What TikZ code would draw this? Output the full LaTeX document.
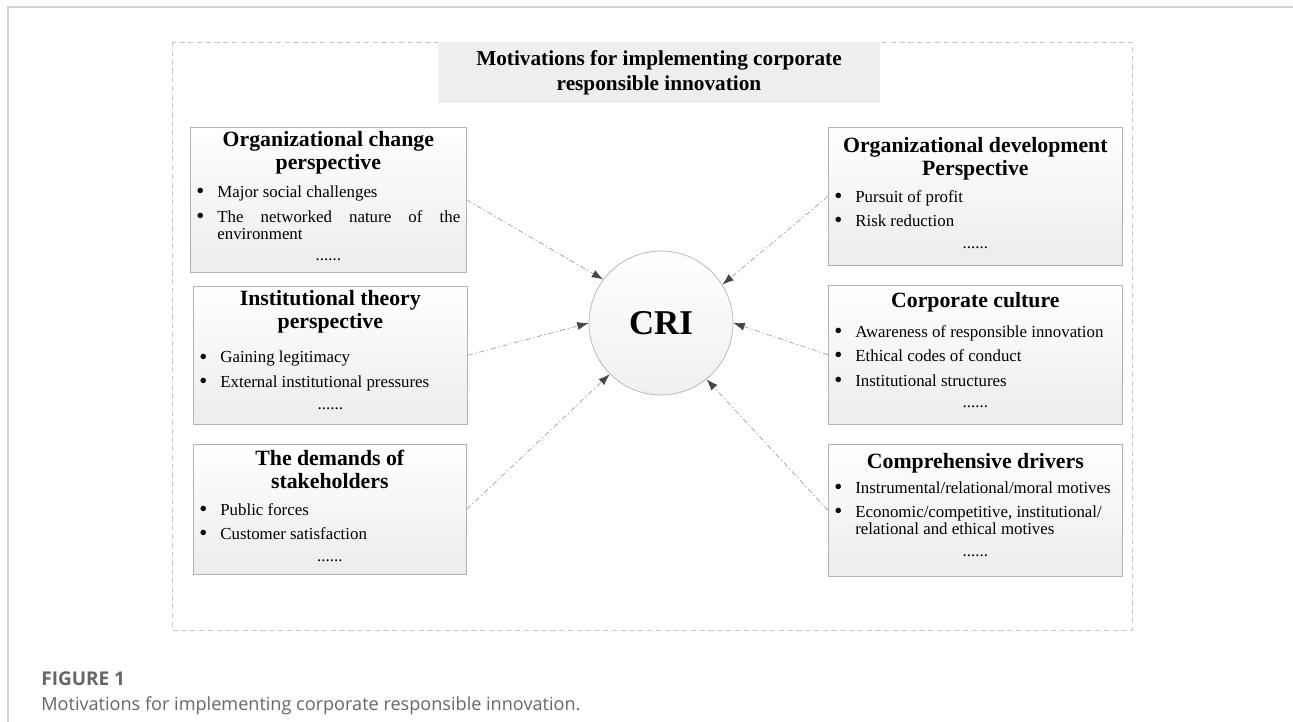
\documentclass[tikz,border=0pt]{standalone}
\usepackage{fontspec}
\setmainfont{Liberation Serif}
\newfontfamily\capfamily{Open Sans}
\usetikzlibrary{arrows.meta}

\definecolor{capgray}{HTML}{666666}

% Fuentes
\newcommand{\headfont}{\fontsize{12.4}{13}\selectfont\bfseries}
\newcommand{\itemfont}{\fontsize{9.6}{9.7}\selectfont}
\newcommand{\titlefont}{\fontsize{12.1}{14.2}\selectfont\bfseries}
\newcommand{\crifont}{\fontsize{19.8}{20}\selectfont\bfseries}

% Contenido de cada caja
\newcommand{\mpanel}[3]{\parbox[t][#2][t]{#1}{\itemfont
  \hyphenpenalty=10000\exhyphenpenalty=10000
  \setlength{\parindent}{0pt}\setlength{\parskip}{4.2pt}%
  \setlength{\leftskip}{0.54cm}\setlength{\rightskip}{0.12cm}#3}}
\newcommand{\mhead}[3]{{\centering\headfont\rule{0pt}{#1}#3\par}\vspace{#2}}
\newcommand{\mitem}[1]{\noindent\llap{\raisebox{-0.6pt}{\fontsize{13}{13}\selectfont\textbullet}\hspace{0.26cm}}#1\par}
\newcommand{\mdots}{\vspace{-1.5pt}{\centering ......\par}}

\tikzset{
  motive/.style={draw=gray!60, top color=white, bottom color=gray!15, inner sep=0pt, anchor=north west},
  hub/.style={circle, draw=gray!60, top color=white, bottom color=gray!12, minimum size=2.88cm, inner sep=0pt, font=\crifont},
  titlebox/.style={fill=gray!13, minimum width=8.84cm, minimum height=1.22cm, inner sep=0pt, align=center, font=\titlefont},
  frame/.style={draw=gray!45, dash pattern=on 3pt off 2pt},
  link/.style={draw=gray!75, dash pattern=on 3pt off 1.5pt on 0.8pt off 1.5pt, -{Latex[length=6.5pt,width=4.6pt,color=black!72]}}
}

\begin{document}
\begin{tikzpicture}[x=0.02cm, y=-0.02cm]
\useasboundingbox (0,0) rectangle (1293,722);

% Borde de la página
\draw[gray!35, line width=1pt] (8,722) -- (8,7) -- (1293,7);

% Marco punteado
\draw[frame] (172,42) rectangle (1132,630);

% Título
\node[titlebox] (title) at (659,72.5) {Motivations for implementing corporate\\responsible innovation};

% Nodo central
\node[hub] (cri) at (661,323) {CRI};

% Perspectivas de la izquierda
\node[motive] (orgchg) at (190,127) {\mpanel{5.52cm}{2.9cm}{
  \mhead{0.39cm}{2pt}{Organizational change\\perspective}
  \mitem{Major social challenges}
  \mitem{The networked nature of the environment}
  \mdots}};

\node[motive] (inst) at (193,286) {\mpanel{5.48cm}{2.76cm}{
  \mhead{0.38cm}{5.9pt}{Institutional theory\\perspective}
  \mitem{Gaining legitimacy}
  \mitem{External institutional pressures}
  \mdots}};

\node[motive] (stake) at (193,444) {\mpanel{5.46cm}{2.6cm}{
  \mhead{0.42cm}{1.4pt}{The demands of\\stakeholders}
  \mitem{Public forces}
  \mitem{Customer satisfaction}
  \mdots}};

% Perspectivas de la derecha
\node[motive] (orgdev) at (828,127) {\mpanel{5.88cm}{2.76cm}{
  \mhead{0.5cm}{1.4pt}{Organizational development\\Perspective}
  \mitem{Pursuit of profit}
  \mitem{Risk reduction}
  \mdots}};

\node[motive] (culture) at (828,285) {\mpanel{5.88cm}{2.78cm}{
  \mhead{0.44cm}{3.1pt}{Corporate culture}
  \mitem{Awareness of responsible innovation}
  \mitem{Ethical codes of conduct}
  \mitem{Institutional structures}
  \mdots}};

\node[motive] (drivers) at (828,444) {\mpanel{5.88cm}{2.64cm}{
  \mhead{0.48cm}{0.3pt}{Comprehensive drivers}
  \mitem{Instrumental/relational/moral motives}
  \mitem{Economic/competitive, institutional/\\relational and ethical motives}
  \mdots}};

% Flechas hacia CRI
\foreach \src/\dst in {orgchg.east/cri.143, inst.east/cri.west, stake.east/cri.225,
    orgdev.west/cri.32, culture.west/cri.east, drivers.west/cri.-51}
  \draw[link] (\src) -- (\dst);

% Pie de figura
\node[anchor=base west, inner sep=0pt, text=capgray, font=\capfamily\bfseries\fontsize{10.8}{13}\selectfont] (figlabel) at (41,685) {FIGURE 1};
\node[anchor=base west, inner sep=0pt, text=capgray, font=\capfamily\fontsize{10.3}{12}\selectfont] (figtext) at (41,710) {Motivations for implementing corporate responsible innovation.};
\end{tikzpicture}
\end{document}
